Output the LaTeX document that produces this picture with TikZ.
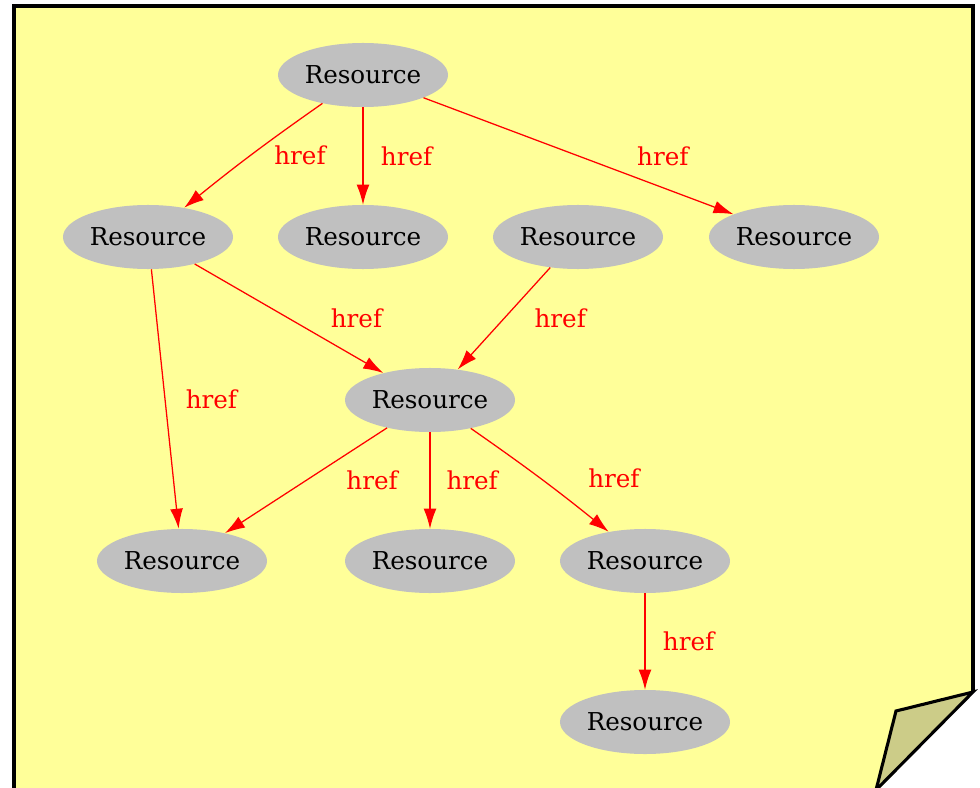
\documentclass[tikz,border=0pt]{standalone}
\usepackage{fontspec}
\setmainfont{DejaVu Serif}
\usetikzlibrary{arrows.meta}
\usetikzlibrary{shapes.geometric}
\definecolor{notepaper}{RGB}{255,255,153}
\definecolor{notefold}{RGB}{204,204,136}
\definecolor{resgray}{RGB}{192,192,192}
\tikzset{
  res/.style={ellipse,fill=resgray,inner sep=0pt,minimum width=4.25cm,minimum height=1.6cm,font=\fontsize{17.5}{20}\selectfont},
  link/.style={->,red,line width=0.9pt},
  lbl/.style={text=red,inner sep=0pt,font=\fontsize{17.5}{20}\selectfont}
}

\begin{document}
\begin{tikzpicture}[x=0.025cm,y=-0.025cm,>={Latex[length=5mm,width=3.2mm]}]
 \useasboundingbox (0,0) rectangle (980,788);
 % the note
 \fill [notepaper] (14,6) -- (973,6) -- (973,692) -- (876,792) -- (14,792) -- cycle;
 \filldraw [fill=notefold,line width=2.2pt,line join=miter] (973,692) -- (896,711) -- (876,790) -- cycle;
 \draw [line width=2.2pt] (14,792) -- (14,6) -- (973,6) -- (973,692);
 % resources
 \node [res] (R1) at (363,75) {Resource};
 \node [res] (R2) at (148,237) {Resource};
 \node [res] (R3) at (363,237) {Resource};
 \node [res] (R4) at (578,237) {Resource};
 \node [res] (R5) at (794,237) {Resource};
 \node [res] (R6) at (430,400) {Resource};
 \node [res] (R7) at (182,561) {Resource};
 \node [res] (R8) at (430,561) {Resource};
 \node [res] (R9) at (645,561) {Resource};
 \node [res] (R10) at (645,722) {Resource};
 % links
 \draw [link] (R1) to [bend right=2] node [lbl,midway,xshift=34pt,yshift=-1pt] {href} (R2);
 \draw [link] (R1) -- (R3) node [lbl,midway,xshift=31pt] {href};
 \draw [link] (R1) -- (R5) node [lbl,midway,xshift=60pt] {href};
 \draw [link] (R2) -- (R7) node [lbl,midway,xshift=33pt] {href};
 \draw [link] (R2) -- (R6) node [lbl,midway,xshift=48pt] {href};
 \draw [link] (R4) -- (R6) node [lbl,midway,xshift=40pt] {href};
 \draw [link] (R6) -- (R7) node [lbl,midway,xshift=47pt] {href};
 \draw [link] (R6) -- (R8) node [lbl,midway,xshift=30pt] {href};
 \draw [link] (R6) to [bend left=2] node [lbl,midway,xshift=52pt] {href} (R9);
 \draw [link] (R9) -- (R10) node [lbl,midway,xshift=31pt] {href};
\end{tikzpicture}
\end{document}
